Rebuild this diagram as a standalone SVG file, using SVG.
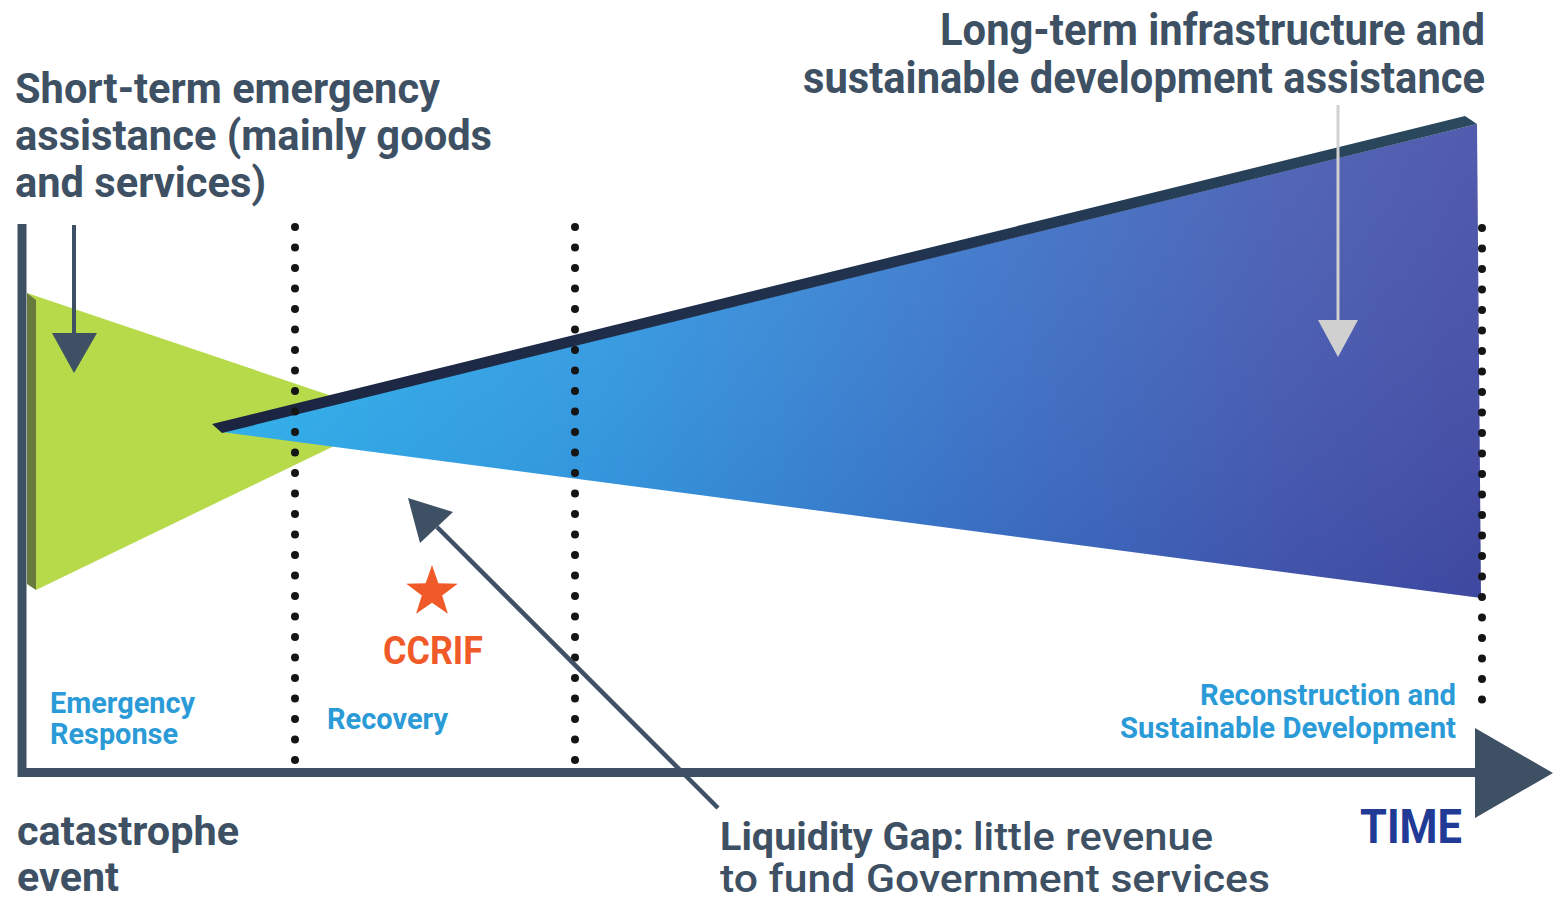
<svg xmlns="http://www.w3.org/2000/svg" width="1567" height="901" viewBox="0 0 1567 901">
<style>
.t{font-family:Roboto,"Liberation Sans",sans-serif;font-weight:700;}
.slate{fill:#3e5063;}
.blue{fill:#2b9bd8;font-size:29px;}
.big{font-size:43px;}
.dots{stroke:#151515;stroke-width:8;stroke-linecap:round;stroke-dasharray:0 20.5;fill:none;}
.ax{stroke:#3e5063;fill:none;}
</style>
<defs>
<linearGradient id="cone" gradientUnits="userSpaceOnUse" x1="222" y1="0" x2="1480" y2="0">
<stop offset="0" stop-color="#2cb7f1"/>
<stop offset="0.3" stop-color="#309de5"/>
<stop offset="0.6" stop-color="#3a75cb"/>
<stop offset="0.85" stop-color="#4459b1"/>
<stop offset="1" stop-color="#434da6"/>
</linearGradient>
<linearGradient id="shade" gradientUnits="userSpaceOnUse" x1="0" y1="130" x2="0" y2="600">
<stop offset="0" stop-color="#ffffff" stop-opacity="0.08"/>
<stop offset="1" stop-color="#1a1f70" stop-opacity="0.12"/>
</linearGradient>
<linearGradient id="bar" gradientUnits="userSpaceOnUse" x1="212" y1="0" x2="1477" y2="0">
<stop offset="0" stop-color="#1b2440"/>
<stop offset="0.6" stop-color="#223550"/>
<stop offset="1" stop-color="#2b4a5e"/>
</linearGradient>
</defs>

<g id="emergency-wedge">
<polygon points="27,293 394,417 36,590" fill="#b6da4a"/>
<polygon points="27,293 36,300 36,590 27,584" fill="#687b3d"/>
</g>

<g id="development-cone">
<polygon points="222,432 1477,124 1481,598" fill="url(#cone)"/>
<polygon points="222,432 1477,124 1481,598" fill="url(#shade)"/>
<polygon points="212,424 1465,116 1477,124 222,433" fill="url(#bar)"/>
</g>

<g id="dividers">
<line class="dots" x1="295" y1="227" x2="295" y2="761"/>
<line class="dots" x1="575" y1="227" x2="575" y2="761"/>
<line class="dots" x1="1482" y1="228" x2="1482" y2="720"/>
</g>

<g id="connectors">
<line class="ax" x1="22" y1="224" x2="22" y2="777" stroke-width="9"/>
<line class="ax" x1="18" y1="772.5" x2="1480" y2="772.5" stroke-width="9"/>
<polygon points="1475,728 1553,773 1475,818" fill="#3e5063"/>
<line class="ax" x1="74" y1="225" x2="74" y2="340" stroke-width="4"/>
<polygon points="52,333 97,333 74,373" fill="#3e5063"/>
<line x1="1338" y1="105" x2="1338" y2="330" stroke="#d0d0d0" stroke-width="3"/>
<polygon points="1318,320 1358,320 1338,357" fill="#d0d0d0"/>
<line class="ax" x1="718" y1="808" x2="437" y2="527" stroke-width="4.5"/>
<polygon points="408,498 453,512 420,543" fill="#3e5063"/>
</g>

<g id="ccrif">
<polygon points="432,565 438.3,583.3 457.7,583.7 442.2,595.4 447.9,613.8 432,602.8 416.1,613.8 421.8,595.4 406.3,583.7 425.7,583.3" fill="#f05a28"/>
<text class="t" x="383" y="664" font-size="39" textLength="100" lengthAdjust="spacingAndGlyphs" fill="#f05a28">CCRIF</text>
</g>

<g id="long-term-label">
<text class="t slate" x="940" y="45" font-size="44" textLength="545" lengthAdjust="spacingAndGlyphs">Long-term infrastructure and</text>
<text class="t slate" x="803" y="93" font-size="44" textLength="682" lengthAdjust="spacingAndGlyphs">sustainable development assistance</text>
</g>

<g id="short-term-label">
<text class="t slate big" x="15" y="103" textLength="425" lengthAdjust="spacingAndGlyphs">Short-term emergency</text>
<text class="t slate big" x="15" y="150" textLength="477" lengthAdjust="spacingAndGlyphs">assistance (mainly goods</text>
<text class="t slate big" x="15" y="197" textLength="251" lengthAdjust="spacingAndGlyphs">and services)</text>
</g>

<g id="phase-labels">
<text class="t blue" x="50" y="713" textLength="145" lengthAdjust="spacingAndGlyphs">Emergency</text>
<text class="t blue" x="50" y="744" textLength="128" lengthAdjust="spacingAndGlyphs">Response</text>
<text class="t blue" x="327" y="729" textLength="121" lengthAdjust="spacingAndGlyphs">Recovery</text>
<text class="t blue" x="1200" y="705" textLength="256" lengthAdjust="spacingAndGlyphs">Reconstruction and</text>
<text class="t blue" x="1120" y="738" textLength="336" lengthAdjust="spacingAndGlyphs">Sustainable Development</text>
</g>

<g id="catastrophe-label">
<text class="t slate" x="17" y="845" font-size="41" textLength="222" lengthAdjust="spacingAndGlyphs">catastrophe</text>
<text class="t slate" x="17" y="891" font-size="41" textLength="102" lengthAdjust="spacingAndGlyphs">event</text>
</g>

<g id="liquidity-label">
<text class="t slate" x="720" y="850" font-size="38" textLength="244" lengthAdjust="spacingAndGlyphs">Liquidity Gap:</text>
<text class="slate" x="973" y="850" font-family="Roboto,'Liberation Sans',sans-serif" font-weight="500" font-size="38" textLength="240" lengthAdjust="spacingAndGlyphs">little revenue</text>
<text class="slate" x="720" y="892" font-family="Roboto,'Liberation Sans',sans-serif" font-weight="500" font-size="38" textLength="550" lengthAdjust="spacingAndGlyphs">to fund Government services</text>
</g>

<g id="time-label">
<text class="t" x="1360" y="843" font-size="48" textLength="102" lengthAdjust="spacingAndGlyphs" fill="#213a96">TIME</text>
</g>
</svg>
